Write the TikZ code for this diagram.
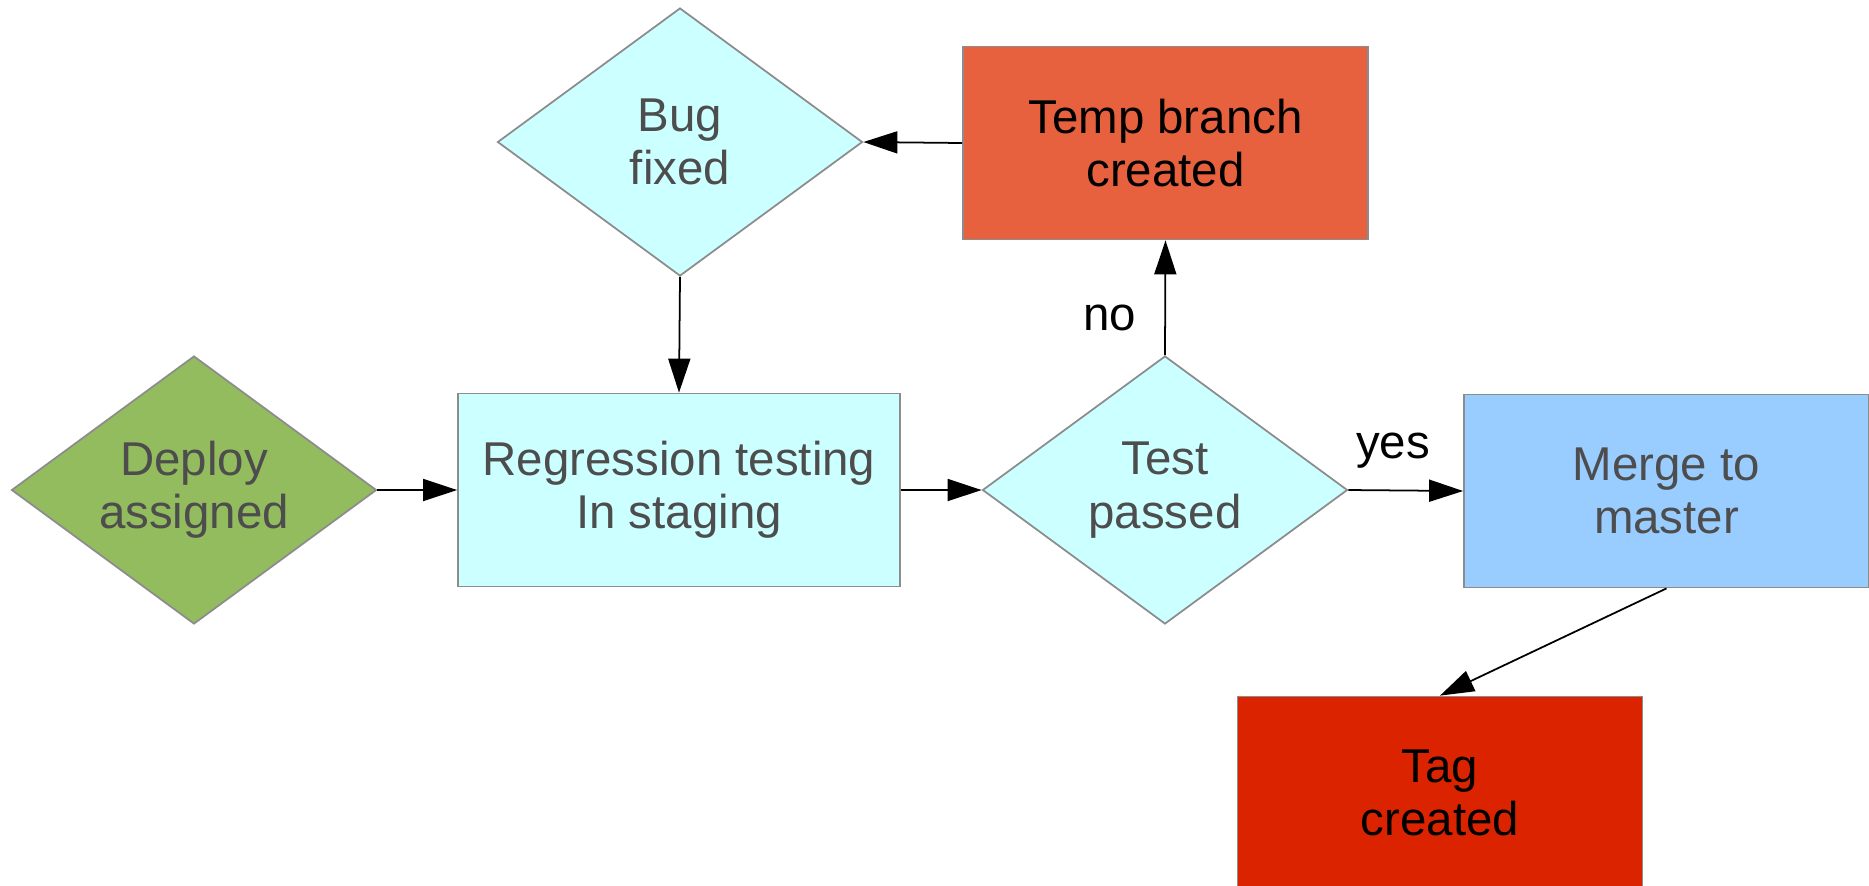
\documentclass[tikz,border=0pt]{standalone}
\usepackage{fontspec}
\setmainfont{Liberation Sans}
\usepackage{xcolor}
\usepackage{tikz}
\usetikzlibrary{shapes,arrows,positioning,calc,arrows.meta}

\definecolor{edgegrey}{HTML}{8C8C8C}
\definecolor{textgrey}{HTML}{4D4D4D}
\definecolor{leafgreen}{HTML}{93BC5E}
\definecolor{palecyan}{HTML}{CCFFFF}
\definecolor{skyblue}{HTML}{99CCFF}
\definecolor{brickred}{HTML}{E8613F}
\definecolor{tagred}{HTML}{DC2300}
\newcommand{\flowfont}{\fontsize{13.5}{15.2}\selectfont}

\begin{document}
\begin{tikzpicture}[
    stepbox/.style={draw=edgegrey,rectangle,line width=0.5pt,inner sep=0pt,
        minimum width=4.05cm,minimum height=1.93cm,align=center,font=\flowfont},
    decision/.style={draw=edgegrey,diamond,aspect=1.36,line width=0.5pt,inner sep=0pt,
        minimum width=3.65cm,minimum height=2.68cm,align=center,font=\flowfont},
    flow/.style={-{Triangle[length=0.34cm,width=0.22cm]},line width=0.5pt},
    answer/.style={anchor=base,font=\flowfont}
]
    \useasboundingbox (0,0) rectangle (18.69,-8.85);

    % Main row
    \node[decision,fill=leafgreen,text=textgrey] (deploy) at (1.94,-4.90) {Deploy\\assigned};
    \node[stepbox,fill=palecyan,text=textgrey,minimum width=4.42cm] (regress) at (6.79,-4.90) {Regression testing\\In staging};
    \node[decision,fill=palecyan,text=textgrey] (passed) at (11.65,-4.90) {Test\\passed};
    \node[stepbox,fill=skyblue,text=textgrey] (merge) at (16.665,-4.91) {Merge to\\master};

    % Fix loop
    \node[stepbox,fill=brickred] (temp) at (11.655,-1.43) {Temp branch\\created};
    \node[decision,fill=palecyan,text=textgrey] (fixed) at (6.80,-1.42) {Bug\\fixed};

    % Release
    \node[stepbox,fill=tagred] (tag) at (14.40,-7.93) {Tag\\created};

    % Connectors
    \draw[flow] (deploy.east) -- (regress.west);
    \draw[flow] (regress.east) -- (passed.west);
    \draw[flow] (passed.east) -- (merge.west);
    \draw[flow] (passed.north) -- (temp.south);
    \draw[flow] (temp.west) -- (fixed.east);
    \draw[flow] (fixed.south) -- (regress.north);
    \draw[flow] (merge.south) -- (tag.north);

    % Branch answers
    \node[answer] (no) at (11.10,-3.30) {no};
    \node[answer] (yes) at (13.93,-4.58) {yes};
\end{tikzpicture}
\end{document}
